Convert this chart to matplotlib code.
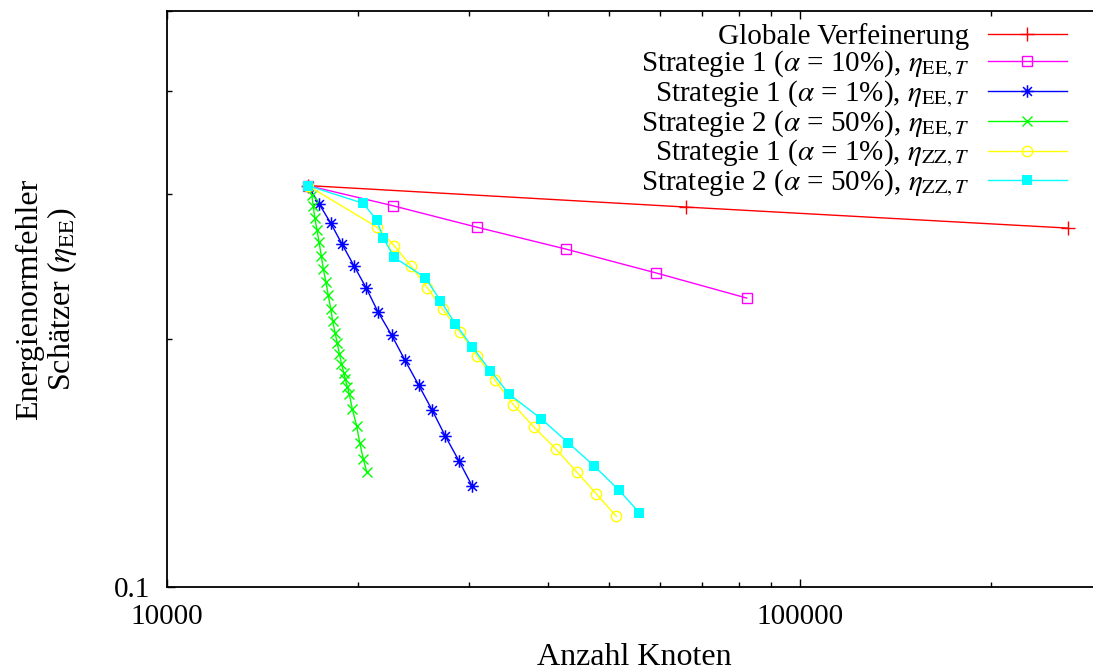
import matplotlib
matplotlib.use("Agg")
import matplotlib.pyplot as plt
from matplotlib.path import Path
from matplotlib.ticker import FixedLocator, NullFormatter, FuncFormatter

plt.rcParams['font.family'] = ['Liberation Serif', 'DejaVu Serif']
plt.rcParams['mathtext.fontset'] = 'stix'

# Globale Verfeinerung
glob_n = [16686, 66050, 265000]
glob_err = [0.307, 0.2891, 0.2726]

# Strategie 1, alpha = 10 %, eta_EE,T
s1a10_n = [16686, 22735, 30920, 42740, 59240, 82380]
s1a10_err = [0.307, 0.2902, 0.2732, 0.2570, 0.2405, 0.2242]

# Strategie 1, alpha = 1 %, eta_EE,T
s1a1_n = [16686, 17400, 18140, 18900, 19740, 20640, 21544, 22650,
          23770, 24980, 26250, 27490, 28930, 30360]
s1a1_err = [0.307, 0.2915, 0.2764, 0.2607, 0.2454, 0.2306, 0.2157, 0.2020,
            0.1884, 0.1758, 0.1638, 0.1527, 0.1422, 0.1325]

# Strategie 2, alpha = 50 %, eta_EE,T
s2a50_n = [16686, 16930, 17030, 17120, 17260, 17390, 17530, 17660, 17830,
           17980, 18140, 18270, 18430, 18580, 18720, 18860, 19020, 19130,
           19270, 19410, 19620, 19940, 20160, 20420, 20680]
s2a50_err = [0.307, 0.2990, 0.2897, 0.2801, 0.2711, 0.2619, 0.2522, 0.2430,
             0.2343, 0.2259, 0.2177, 0.2103, 0.2035, 0.1975, 0.1920, 0.1867,
             0.1820, 0.1786, 0.1750, 0.1713, 0.1645, 0.1567, 0.1496, 0.1430,
             0.1379]

# Strategie 1, alpha = 1 %, eta_ZZ,T
s1zz_n = [16686, 21490, 22860, 24270, 25770, 27260, 29030, 30920, 32980,
          35250, 38000, 41130, 44390, 47680, 51280]
s1zz_err = [0.307, 0.2732, 0.2594, 0.2454, 0.2308, 0.2173, 0.2039, 0.1906,
            0.1781, 0.1665, 0.1563, 0.1471, 0.1379, 0.1297, 0.1218]

# Strategie 2, alpha = 50 %, eta_ZZ,T
s2zz_n = [16686, 20420, 21450, 21970, 22860, 25590, 27030, 28540, 30360,
          32420, 34740, 38970, 43050, 47280, 51700, 55730]
s2zz_err = [0.307, 0.2921, 0.2786, 0.2649, 0.2511, 0.2374, 0.2226, 0.2087,
            0.1955, 0.1830, 0.1713, 0.1601, 0.1496, 0.1403, 0.1312, 0.1231]

labels = [
    "Globale Verfeinerung",
    r"Strategie 1 ($\alpha$ = 10%), $\eta_{\mathrm{EE},T}$",
    r"Strategie 1 ($\alpha$ = 1%), $\eta_{\mathrm{EE},T}$",
    r"Strategie 2 ($\alpha$ = 50%), $\eta_{\mathrm{EE},T}$",
    r"Strategie 1 ($\alpha$ = 1%), $\eta_{\mathrm{ZZ},T}$",
    r"Strategie 2 ($\alpha$ = 50%), $\eta_{\mathrm{ZZ},T}$",
]

x_major = [1e4, 1e5]
x_minor = [2e4, 3e4, 4e4, 5e4, 6e4, 7e4, 8e4, 9e4, 2e5, 3e5]
y_major = [0.1]
y_minor = [0.2, 0.3, 0.4, 0.5]

# star marker made of a plus and a cross
d = 0.7071
star = Path([(-1, 0), (1, 0), (0, -1), (0, 1), (-d, -d), (d, d), (-d, d), (d, -d)],
            [Path.MOVETO, Path.LINETO] * 4)

fig = plt.figure(figsize=(10.93, 6.72), dpi=100)
ax = fig.add_axes([167 / 1093, 85 / 672, 935 / 1093, 576 / 672])
ax.set_xscale('log')
ax.set_yscale('log')

lw = 1.0
ax.plot(glob_n, glob_err, color='#ff0000', lw=lw, marker='+', ms=10, mew=1.0,
        label=labels[0])
ax.plot(s1a10_n, s1a10_err, color='#ff00ff', lw=lw, marker='s', ms=7,
        mfc='none', mew=1.0, label=labels[1])
ax.plot(s1a1_n, s1a1_err, color='#0000ff', lw=lw, marker=star, ms=9,
        mew=1.1, label=labels[2])
ax.plot(s2a50_n, s2a50_err, color='#00ff00', lw=lw, marker='x', ms=7,
        mew=1.0, label=labels[3])
ax.plot(s1zz_n, s1zz_err, color='#ffff00', lw=lw, marker='o', ms=7.5,
        mfc='none', mew=1.0, label=labels[4])
ax.plot(s2zz_n, s2zz_err, color='#00ffff', lw=lw, marker='s', ms=7,
        mew=0, label=labels[5])

ax.set_xlim(1e4, 3e5)
ax.set_ylim(0.1, 0.5)

ax.xaxis.set_major_locator(FixedLocator(x_major))
ax.xaxis.set_minor_locator(FixedLocator(x_minor))
ax.xaxis.set_major_formatter(FuncFormatter(lambda v, p: f"{v:.0f}"))
ax.xaxis.set_minor_formatter(NullFormatter())
ax.yaxis.set_major_locator(FixedLocator(y_major))
ax.yaxis.set_minor_locator(FixedLocator(y_minor))
ax.yaxis.set_major_formatter(FuncFormatter(lambda v, p: f"{v:g}"))
ax.yaxis.set_minor_formatter(NullFormatter())

ax.tick_params(which='both', direction='in', top=True, right=True,
               labelsize=21, width=1.0)
ax.tick_params(which='major', length=6)
ax.tick_params(which='minor', length=3.5)
ax.tick_params(axis='x', which='major', pad=12)
ax.tick_params(axis='y', which='major', pad=12)
for s in ax.spines.values():
    s.set_linewidth(1.3)

ax.set_xlabel("Anzahl Knoten", fontsize=23, va='top')
ax.xaxis.set_label_coords(0.5, -0.098)
ax.set_ylabel("Energienormfehler\nSchätzer ($\\eta_{\\mathrm{EE}}$)",
              fontsize=23, linespacing=1.05)
ax.yaxis.set_label_coords(-0.0941, 0.5)

leg = ax.legend(loc='upper right', bbox_to_anchor=(0.9626, 0.979),
                frameon=False, markerfirst=False, fontsize=21,
                handlelength=2.72, handletextpad=0.62, labelspacing=-0.047,
                borderaxespad=0, borderpad=0, numpoints=1)

fig.savefig("out.png", dpi=100)
